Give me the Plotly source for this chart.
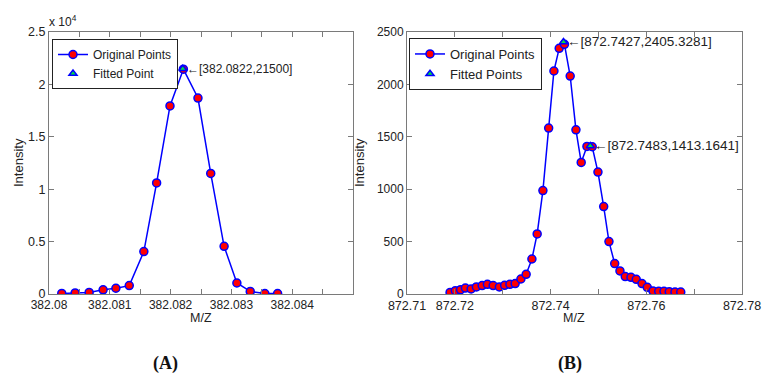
import plotly.graph_objects as go

W, H = 764, 376

# ---------------- Panel A data ----------------
mz_a = [382.08021, 382.08043, 382.08066, 382.08089, 382.08110, 382.08132, 382.08156,
        382.08177, 382.08199, 382.08221, 382.08245, 382.08266, 382.08288, 382.08309,
        382.08331, 382.08355, 382.08376]
int_a = [50, 100, 150, 400, 550, 800, 4050, 10600, 17950, 21450, 18700, 11500,
         4550, 1050, 250, 40, 40]
fit_a_mz = [382.0822]
fit_a_int = [21500]
fit_a_text = ["[382.0822,21500]"]

# ---------------- Panel B data ----------------
mz_b = [872.7190, 872.7201, 872.7212, 872.7222, 872.7234, 872.7245, 872.7257, 872.7268,
        872.7280, 872.7293, 872.7304, 872.7315, 872.7326, 872.7338, 872.7349, 872.7361,
        872.7372, 872.7384, 872.7396, 872.7407, 872.7418, 872.7429, 872.7441, 872.7453,
        872.7464, 872.7476, 872.7487, 872.7499, 872.7511, 872.7522, 872.7534, 872.7545,
        872.7556, 872.7568, 872.7579, 872.7591, 872.7602, 872.7614, 872.7626, 872.7637,
        872.7648, 872.7660, 872.7672]
int_b = [15, 32, 41, 57, 48, 67, 80, 92, 80, 67, 83, 92, 99, 143, 188, 334,
         573, 987, 1583, 2128, 2344, 2382, 2080, 1567, 1255, 1408, 1405, 1163,
         834, 500, 290, 220, 166, 159, 140, 99, 64, 29, 26, 26, 22, 19, 19]
fit_b_mz = [872.7427, 872.7483]
fit_b_int = [2405.3281, 1413.1641]
fit_b_text = ["[872.7427,2405.3281]", "[872.7483,1413.1641]"]

# tick definitions
xa_ticks = [382.08, 382.081, 382.082, 382.083, 382.084]
xa_text = ["382.08", "382.081", "382.082", "382.083", "382.084"]
xa_minor = [382.0805, 382.0815, 382.0825, 382.0835, 382.0845, 382.085]
ya_ticks = [0, 5000, 10000, 15000, 20000, 25000]
ya_text = ["0", "0.5", "1", "1.5", "2", "2.5"]
xb_ticks = [872.71, 872.72, 872.74, 872.76, 872.78]
xb_text = ["872.71", "872.72", "872.74", "872.76", "872.78"]
xb_minor = [872.73, 872.75, 872.77]
yb_ticks = [0, 500, 1000, 1500, 2000, 2500]

FONT = "Liberation Sans, Arial, sans-serif"
BLUE = "#0000FF"
RED = "#FF0000"
GREEN = "#00DD44"
AXC = "#7a7a7a"
TXT = "#222222"

def px_x(p):
    return p / W

def px_y(p):
    return 1 - p / H

fig = go.Figure()

fig.add_trace(go.Scatter(x=mz_a, y=int_a, mode="lines+markers", name="Original Points",
                         line=dict(color=BLUE, width=1.5),
                         marker=dict(color=RED, size=8, line=dict(color=BLUE, width=1.5)),
                         xaxis="x", yaxis="y", legend="legend"))
fig.add_trace(go.Scatter(x=fit_a_mz, y=fit_a_int, mode="markers", name="Fitted Point",
                         marker=dict(symbol="triangle-up", color=GREEN, size=7,
                                     line=dict(color=BLUE, width=1.5)),
                         xaxis="x", yaxis="y", legend="legend"))
fig.add_trace(go.Scatter(x=mz_b, y=int_b, mode="lines+markers", name="Original Points",
                         line=dict(color=BLUE, width=1.5),
                         marker=dict(color=RED, size=8, line=dict(color=BLUE, width=1.5)),
                         xaxis="x2", yaxis="y2", legend="legend2"))
fig.add_trace(go.Scatter(x=fit_b_mz, y=fit_b_int, mode="markers", name="Fitted Points",
                         marker=dict(symbol="triangle-up", color=GREEN, size=7,
                                     line=dict(color=BLUE, width=1.5)),
                         xaxis="x2", yaxis="y2", legend="legend2"))

def axis_style(fs):
    return dict(showline=True, linecolor=AXC, linewidth=1, mirror="ticks",
                ticks="inside", ticklen=5, tickcolor=AXC, showgrid=False,
                zeroline=False, automargin=False,
                tickfont=dict(family=FONT, size=fs, color=TXT))

def minor_style(vals):
    return dict(tickmode="array", tickvals=vals, ticks="inside", ticklen=5,
                tickcolor=AXC, showgrid=False)

def legend_style(fs):
    return dict(xanchor="left", yanchor="top", bordercolor="#222", borderwidth=1,
                bgcolor="white", font=dict(family=FONT, size=fs, color=TXT),
                itemwidth=30, tracegroupgap=0)

ydom = [px_y(294), px_y(32)]
fig.update_layout(
    width=W, height=H, margin=dict(l=0, r=0, t=0, b=0, autoexpand=False),
    paper_bgcolor="white", plot_bgcolor="white", showlegend=True,
    xaxis=dict(domain=[px_x(49), px_x(353)], range=[382.08, 382.085], tickmode="array",
               tickvals=xa_ticks, ticktext=xa_text, anchor="y",
               minor=minor_style(xa_minor), **axis_style(12)),
    yaxis=dict(domain=ydom, range=[0, 25000], tickmode="array",
               tickvals=ya_ticks, ticktext=ya_text, anchor="x", **axis_style(12.5)),
    xaxis2=dict(domain=[px_x(407), px_x(742)], range=[872.71, 872.78], tickmode="array",
                tickvals=xb_ticks, ticktext=xb_text, anchor="y2",
                minor=minor_style(xb_minor), **axis_style(12.5)),
    yaxis2=dict(domain=ydom, range=[0, 2500], tickmode="array",
                tickvals=yb_ticks, ticktext=[str(v) for v in yb_ticks], anchor="x2",
                **axis_style(12)),
    legend=dict(x=px_x(52), y=px_y(39), **legend_style(12)),
    legend2=dict(x=px_x(409), y=px_y(38), **legend_style(13)),
)

annots = []
for xv, yv, t in zip(fit_a_mz, fit_a_int, fit_a_text):
    annots.append(dict(x=xv, y=yv, xref="x", yref="y", text="\u2190" + t, showarrow=False,
                       xanchor="left", yanchor="middle", xshift=2,
                       font=dict(family=FONT, size=12, color=TXT)))
for xv, yv, t in zip(fit_b_mz, fit_b_int, fit_b_text):
    annots.append(dict(x=xv, y=yv, xref="x2", yref="y2", text="\u2190" + t, showarrow=False,
                       xanchor="left", yanchor="middle", xshift=2,
                       font=dict(family=FONT, size=13.5, color=TXT)))
annots.append(dict(x=px_x(47), y=px_y(31), xref="paper", yref="paper", text="x 10<sup>4</sup>",
                   showarrow=False, xanchor="left", yanchor="bottom",
                   font=dict(family=FONT, size=12, color=TXT)))
for xc in [px_x(201), px_x(574)]:
    annots.append(dict(x=xc, y=px_y(318), xref="paper", yref="paper", text="M/Z",
                       showarrow=False, xanchor="center", yanchor="middle",
                       font=dict(family=FONT, size=12.5, color=TXT)))
for xc in [px_x(18), px_x(359)]:
    annots.append(dict(x=xc, y=px_y(163), xref="paper", yref="paper", text="Intensity",
                       showarrow=False, xanchor="center", yanchor="middle", textangle=-90,
                       font=dict(family=FONT, size=13, color=TXT)))
for xc, t in [(px_x(165), "(A)"), (px_x(570), "(B)")]:
    annots.append(dict(x=xc, y=px_y(363), xref="paper", yref="paper", text="<b>" + t + "</b>",
                       showarrow=False, xanchor="center", yanchor="middle",
                       font=dict(family="Liberation Serif, Times New Roman, serif", size=18, color="#111")))
fig.update_layout(annotations=annots)

fig.write_html("out.html")
